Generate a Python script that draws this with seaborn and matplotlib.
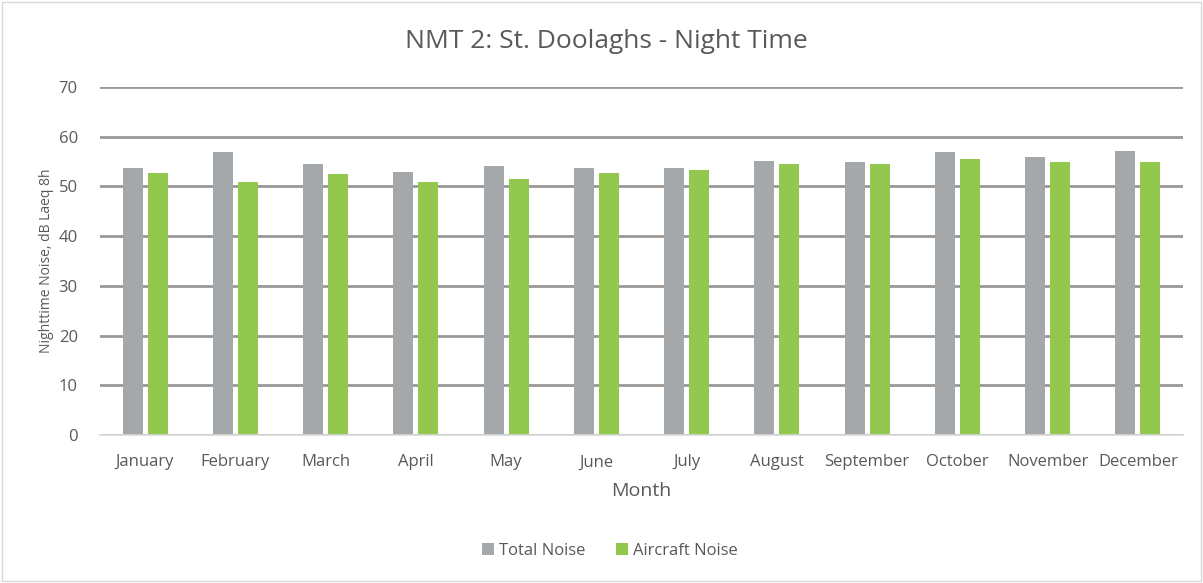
import pandas as pd
import matplotlib.pyplot as plt
import seaborn as sns

# monthly night-time noise levels
months = ["January", "February", "March", "April", "May", "June",
          "July", "August", "September", "October", "November", "December"]
total_noise = [53.8, 56.9, 54.5, 52.9, 54.1, 53.8, 53.8, 55.1, 54.9, 56.9, 55.9, 57.2]
aircraft_noise = [52.8, 50.9, 52.5, 50.9, 51.5, 52.8, 53.4, 54.5, 54.5, 55.5, 54.9, 54.9]
series = ["Total Noise", "Aircraft Noise"]

df = pd.DataFrame({"Month": months * 2,
                   "Noise": total_noise + aircraft_noise,
                   "Series": [series[0]] * 12 + [series[1]] * 12})

sns.set_theme(style="white")
plt.rcParams['font.family'] = ['Open Sans', 'DejaVu Sans']
txt = "#595959"

fig = plt.figure(figsize=(12.03, 5.83), dpi=100)
ax = fig.add_axes([100 / 1203, 1 - 435 / 583, 1083 / 1203, 348 / 583])

sns.barplot(data=df, x="Month", y="Noise", hue="Series", order=months,
            palette=["#A5A8AB", "#92C84E"], width=0.554, gap=0.2,
            saturation=1, linewidth=0, ax=ax, legend=True)

ax.set_ylim(0, 70)
ax.set_yticks(range(0, 71, 10))
ax.set_xlim(-0.5, 11.5)
ax.grid(axis="y", color="#9A9797", linewidth=2)
ax.set_axisbelow(True)
for s in ["top", "left", "right"]:
    ax.spines[s].set_visible(False)
ax.spines["bottom"].set_color("#D9D9D9")
ax.spines["bottom"].set_linewidth(1.2)
ax.tick_params(axis="both", length=0, labelsize=12, colors=txt)
ax.tick_params(axis="x", pad=14)
ax.tick_params(axis="y", pad=16)

ax.set_xlabel("Month", fontsize=14, color=txt, labelpad=8)
ax.set_ylabel("Nighttime Noise, dB Laeq 8h", fontsize=10, color=txt, labelpad=3)
fig.text(0.504, 1 - 42 / 583, "NMT 2: St. Doolaghs - Night Time",
         ha="center", va="center", fontsize=19, color=txt)

handles, labels = ax.get_legend_handles_labels()
ax.legend(handles, labels, loc="center", bbox_to_anchor=(0.507, 1 - 551 / 583),
          bbox_transform=fig.transFigure, ncol=2, frameon=False,
          fontsize=12, labelcolor=txt, handlelength=0.75, handleheight=0.75,
          handletextpad=0.3, columnspacing=1.8)

# thin border around the chart area, like the original export
fig.patches.append(plt.Rectangle((0.002, 0.003), 0.996, 0.994, transform=fig.transFigure,
                                 fill=False, edgecolor="#D9D9D9", linewidth=1))

fig.savefig("out.png", dpi=100)
